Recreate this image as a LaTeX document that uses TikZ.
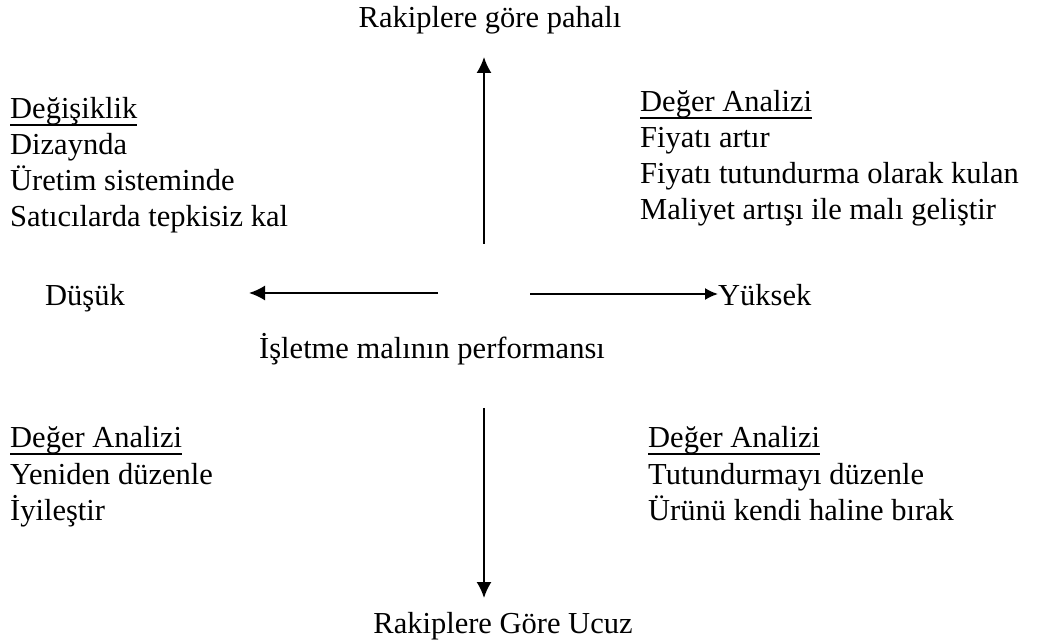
\documentclass[tikz,border=0pt]{standalone}
\usepackage{fontspec}
\setmainfont{Liberation Serif}
\usetikzlibrary{arrows.meta}
\begin{document}
\begin{tikzpicture}[x=1pt,y=-1pt,
  txt/.style={inner sep=0pt,font=\fontsize{30.5}{36}\selectfont,anchor=base west},
  ctr/.style={inner sep=0pt,font=\fontsize{30.5}{36}\selectfont,anchor=base},
  axis/.style={line width=1.8pt,-{Latex[length=16pt,width=15pt]}},
  axissmall/.style={line width=1.8pt,-{Latex[length=13pt,width=12pt]}},
  uline/.style={line width=1.5pt}]
\useasboundingbox (0,0) rectangle (1037,644);

% vertical axis labels
\node[ctr] (top) at (490,28) {Rakiplere göre pahalı};
\node[ctr] (bot) at (503,633) {Rakiplere Göre Ucuz};

% horizontal axis labels
\node[txt] (low) at (45,306) {Düşük};
\node[txt] (high) at (718,306) {Yüksek};
\node[ctr] (perf) at (432,359) {İşletme malının performansı};

% axis arrows
\coordinate (upstart) at (484,244);
\coordinate (uptip) at (484,57);
\coordinate (dnstart) at (484,408);
\coordinate (dntip) at (484,598);
\coordinate (lstart) at (438,293);
\coordinate (ltip) at (249,293);
\coordinate (rstart) at (530,294);
\coordinate (rtip) at (718,294);
\draw[axis] (upstart) -- (uptip);
\draw[axis] (dnstart) -- (dntip);
\draw[axis] (lstart) -- (ltip);
\draw[axissmall] (rstart) -- (rtip);

% upper left quadrant
\node[txt] (h1) at (10,119) {Değişiklik};
\node[txt] (a1) at (10,155) {Dizaynda};
\node[txt] (a2) at (10,191) {Üretim sisteminde};
\node[txt] (a3) at (10,227) {Satıcılarda tepkisiz kal};

% upper right quadrant
\node[txt] (h2) at (640,112) {Değer Analizi};
\node[txt] (b1) at (640,148) {Fiyatı artır};
\node[txt] (b2) at (640,184) {Fiyatı tutundurma olarak kulan};
\node[txt] (b3) at (640,220) {Maliyet artışı ile malı geliştir};

% lower left quadrant
\node[txt] (h3) at (10,448) {Değer Analizi};
\node[txt] (c1) at (10,484) {Yeniden düzenle};
\node[txt] (c2) at (10,520) {İyileştir};

% lower right quadrant
\node[txt] (h4) at (648,448) {Değer Analizi};
\node[txt] (d1) at (648,484) {Tutundurmayı düzenle};
\node[txt] (d2) at (648,520) {Ürünü kendi haline bırak};

% heading underlines
\foreach \h in {h1,h2,h3,h4}
  \draw[uline] ([yshift=-6pt]\h.base west) -- ([yshift=-6pt]\h.base east);
\end{tikzpicture}
\end{document}
